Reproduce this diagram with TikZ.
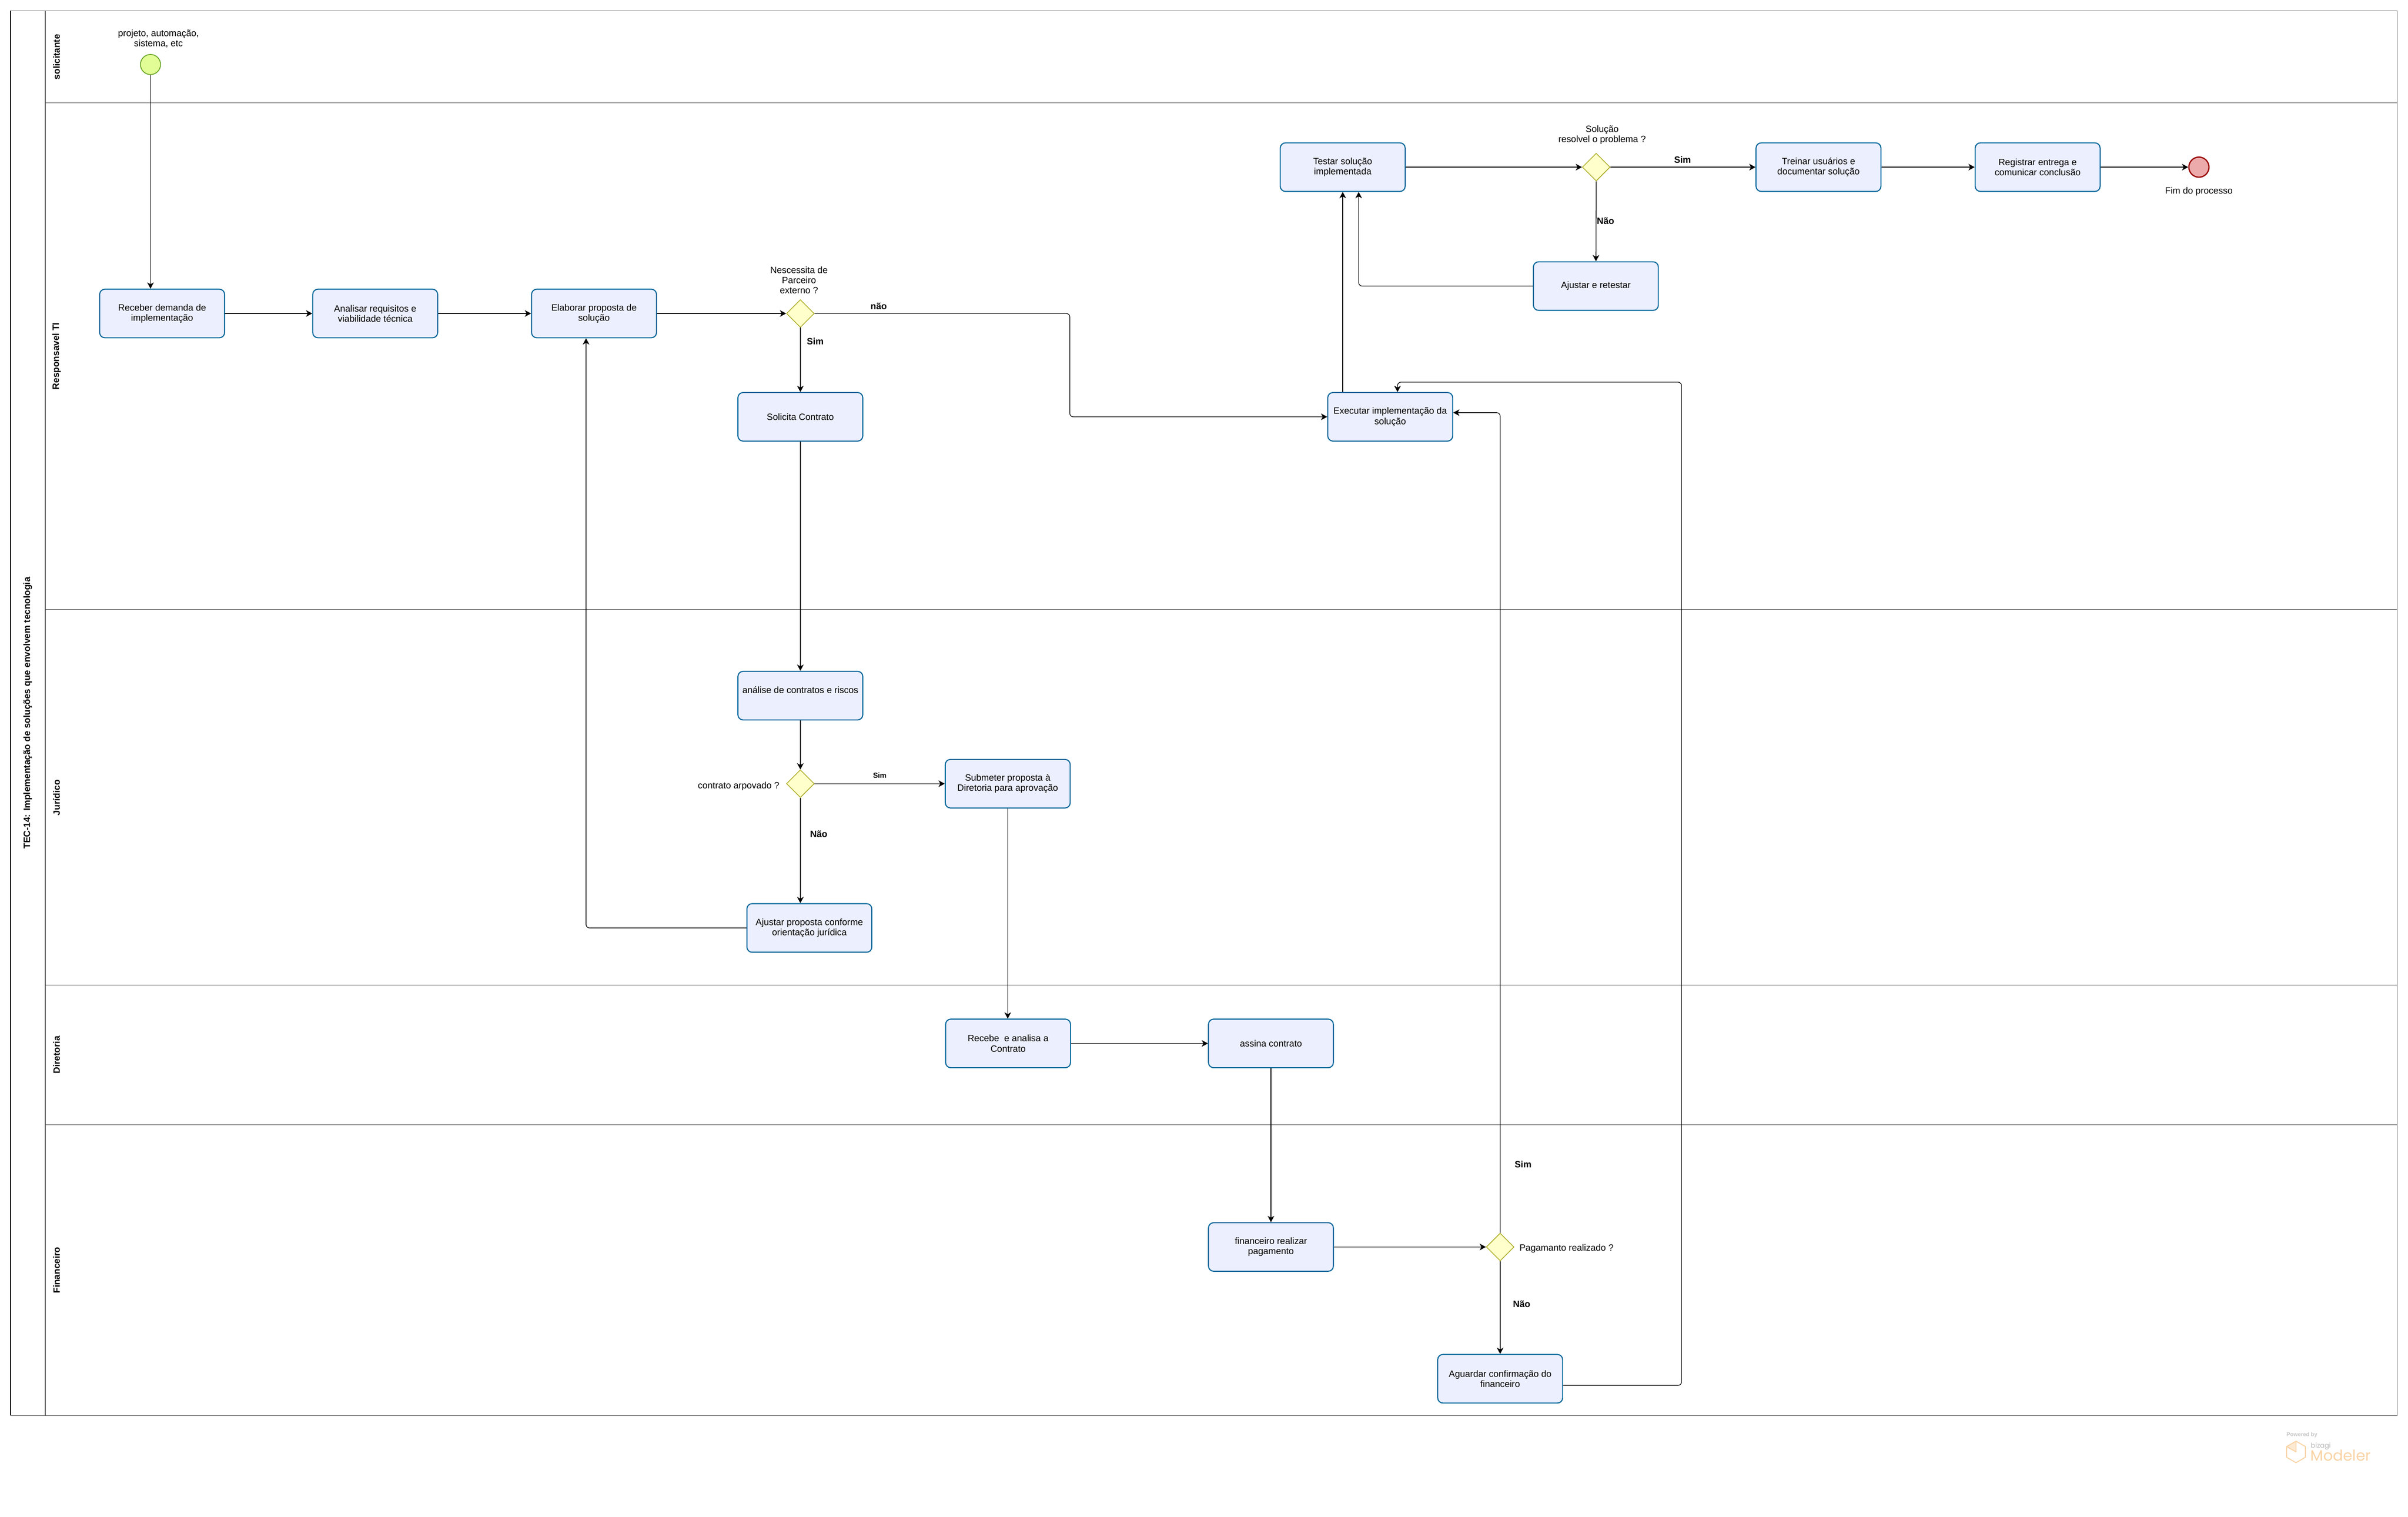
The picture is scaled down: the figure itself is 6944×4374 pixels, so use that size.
\documentclass[tikz,border=0pt]{standalone}
\usepackage{fontspec}
\setmainfont{Liberation Sans}
\newfontfamily\poppfont{Poppins}
\usetikzlibrary{shapes.geometric,arrows.meta,calc}
\definecolor{taskblue}{RGB}{0,102,153}
\definecolor{taskfill}{RGB}{236,239,254}
\definecolor{gwdraw}{RGB}{170,170,34}
\definecolor{gwfill}{RGB}{255,255,204}
\definecolor{startdraw}{RGB}{106,165,40}
\definecolor{startfill}{RGB}{226,252,150}
\definecolor{enddraw}{RGB}{153,0,0}
\definecolor{endfill}{RGB}{236,170,170}
\definecolor{lanegray}{RGB}{80,80,80}
\definecolor{logoorange}{RGB}{249,211,165}
\newcommand\fs{\fontsize{7.5}{8.4}\selectfont}
\newcommand\fsb{\fontsize{7.5}{8.4}\selectfont\bfseries}
\begin{document}
\begin{tikzpicture}[x=0.01cm,y=-0.01cm,
 task/.style={draw=taskblue, fill=taskfill, line width=0.03cm, rounded corners=0.15cm,
   minimum width=3.6cm, minimum height=1.4cm, align=center, font=\fs, inner sep=0pt},
 gw/.style={diamond, draw=gwdraw, fill=gwfill, line width=0.02cm, minimum width=0.8cm,
   minimum height=0.8cm, inner sep=0pt},
 txt/.style={font=\fs, align=center, inner sep=0pt},
 lbl/.style={font=\fsb, inner sep=0pt},
 seqflow/.style={line width=0.018cm, -{Stealth[length=0.18cm,width=0.19cm,inset=0.05cm]},
   rounded corners=0.1cm},
 lanesep/.style={draw=lanegray, line width=0.012cm},
]
\useasboundingbox (0,0) rectangle (6944,4374);
% pool and lanes
\draw[lanegray, line width=0.02cm] (31,31) rectangle (6913,4082);
\draw[black, line width=0.025cm] (31,31) -- (31,4082);
\draw[lanegray, line width=0.025cm] (131,31) -- (131,4082);
\foreach \yy in {297,1758,2841,3244} \draw[lanesep] (131,\yy) -- (6913,\yy);
\node[font=\fsb, rotate=90] (pooltitle) at (80,2056) {TEC-14: Implementação de soluções que envolvem tecnologia};
\node[font=\fsb, rotate=90] (lane1) at (163,164) {solicitante};
\node[font=\fsb, rotate=90] (lane2) at (163,1027) {Responsavel TI};
\node[font=\fsb, rotate=90] (lane3) at (163,2300) {Jurídico};
\node[font=\fsb, rotate=90] (lane4) at (163,3042) {Diretoria};
\node[font=\fsb, rotate=90] (lane5) at (163,3663) {Financeiro};
% solicitante
\node[circle, draw=startdraw, fill=startfill, line width=0.025cm, minimum size=0.58cm, inner sep=0pt] (start) at (434,186) {};
\node[txt] (startlbl) at (457,112) {projeto, automação,\\sistema, etc};
% Responsavel TI
\node[task] (recv) at (467.5,904) {Receber demanda de\\implementação};
\node[task] (anal) at (1082,904) {Analisar requisitos e\\viabilidade técnica};
\node[task] (elab) at (1713,904) {Elaborar proposta de\\solução};
\node[gw] (gw1) at (2308,904) {};
\node[txt] (gw1lbl) at (2304,808) {Nescessita de\\Parceiro\\externo ?};
\node[task] (sol) at (2308,1202) {Solicita Contrato};
\node[task] (exec) at (4009,1202) {Executar implementação da\\solução};
\node[task] (test) at (3872,482) {Testar solução\\implementada};
\node[gw] (gw2) at (4603,482) {};
\node[txt] (gw2lbl) at (4620,389) {Solução\\resolvel o problema ?};
\node[task] (tre) at (5244,482) {Treinar usuários e\\documentar solução};
\node[task] (reg) at (5876,482) {Registrar entrega e\\comunicar conclusão};
\node[circle, draw=enddraw, fill=endfill, line width=0.035cm, minimum size=0.58cm, inner sep=0pt] (end) at (6341,482) {};
\node[txt] (endlbl) at (6341,552) {Fim do processo};
\node[task] (ajr) at (4602,825) {Ajustar e retestar};
% Juridico
\node[task] (ana) at (2308,2006) {};
\node[txt] (anatxt) at (2308,1990) {análise de contratos e riscos};
\node[gw] (gw3) at (2308,2260) {};
\node[txt, anchor=east] (gw3lbl) at (2248,2267) {contrato arpovado ?};
\node[task] (sub) at (2906,2260) {Submeter proposta à\\Diretoria para aprovação};
\node[task] (ajp) at (2334,2676) {Ajustar proposta conforme\\orientação jurídica};
% Diretoria
\node[task] (rec) at (2907,3009) {Recebe~ e analisa a\\Contrato};
\node[task] (ass) at (3665,3009) {assina contrato};
% Financeiro
\node[task] (fin) at (3665,3596) {financeiro realizar\\pagamento};
\node[gw] (gw4) at (4326,3596) {};
\node[txt, anchor=west] (gw4lbl) at (4381,3601) {Pagamanto realizado ?};
\node[task] (agu) at (4326,3976) {Aguardar confirmação do\\financeiro};
% edge labels
\node[lbl] (l1) at (2351,984) {Sim};
\node[lbl] (l2) at (2534,883) {não};
\node[lbl] (l3) at (4852,460) {Sim};
\node[lbl] (l4) at (4630,637) {Não};
\node[lbl, font=\fontsize{6}{7}\selectfont\bfseries] (l5) at (2537,2236) {Sim};
\node[lbl] (l6) at (2361,2405) {Não};
\node[lbl] (l7) at (4392,3357) {Sim};
\node[lbl] (l8) at (4388,3760) {Não};
% connectors
\draw[seqflow] (start) -- (start |- recv.north);
\draw[seqflow] (recv) -- (anal);
\draw[seqflow] (anal) -- (elab);
\draw[seqflow] (elab) -- (gw1);
\draw[seqflow] (gw1) -- (sol);
\draw[seqflow] (gw1.east) -- (3085,904) -- (3085,1202) -- (exec.west);
\draw[seqflow] (sol) -- (ana);
\draw[seqflow] (ana) -- (gw3);
\draw[seqflow] (gw3) -- (sub);
\draw[seqflow] (gw3.south) -- (gw3.south |- ajp.north);
\draw[seqflow] (ajp.west) -| ([xshift=-0.23cm]elab.south);
\draw[seqflow] (sub.south) -- (sub.south |- rec.north);
\draw[seqflow] (rec) -- (ass);
\draw[seqflow] (ass) -- (fin);
\draw[seqflow] (fin) -- (gw4);
\draw[seqflow] (gw4.north) |- ([yshift=0.12cm]exec.east);
\draw[seqflow] (gw4) -- (agu);
\draw[seqflow] ([yshift=-0.19cm]agu.east) -- (4849,3995) -- (4849,1102) -- (4030,1102) -- ([xshift=0.21cm]exec.north);
\draw[seqflow] (test.south |- exec.north) -- (test.south);
\draw[seqflow] (ajr.west) -| ([xshift=0.46cm]test.south);
\draw[seqflow] (test) -- (gw2);
\draw[seqflow] (gw2) -- (tre);
\draw[seqflow] (gw2) -- (ajr);
\draw[seqflow] (tre) -- (reg);
\draw[seqflow] (reg) -- (end);
% logo
\node[font=\fontsize{4.5}{5}\selectfont\bfseries, text=gray!45, anchor=west, inner sep=0pt] (pw) at (6593,4138) {Powered by};
\node[font=\poppfont\fontsize{5.5}{6}\selectfont, text=gray!55, anchor=base west, inner sep=0pt] (bz) at (6663,4176) {bizagi};
\node[font=\poppfont\fontsize{12.3}{13}\selectfont, text=logoorange, anchor=base west, inner sep=0pt] (mod) at (6662,4213) {Modeler};
\fill[logoorange!50] (6621,4156) -- (6594,4171.5) -- (6621,4187) -- cycle;
\draw[logoorange, line width=0.027cm, line join=round] (6621,4156) -- (6648,4171.5) -- (6648,4202.5) -- (6621,4218) -- (6594,4202.5) -- (6594,4171.5) -- cycle;
\draw[logoorange, line width=0.027cm, line join=round] (6594,4171.5) -- (6621,4187) -- (6621,4156);
\end{tikzpicture}
\end{document}
